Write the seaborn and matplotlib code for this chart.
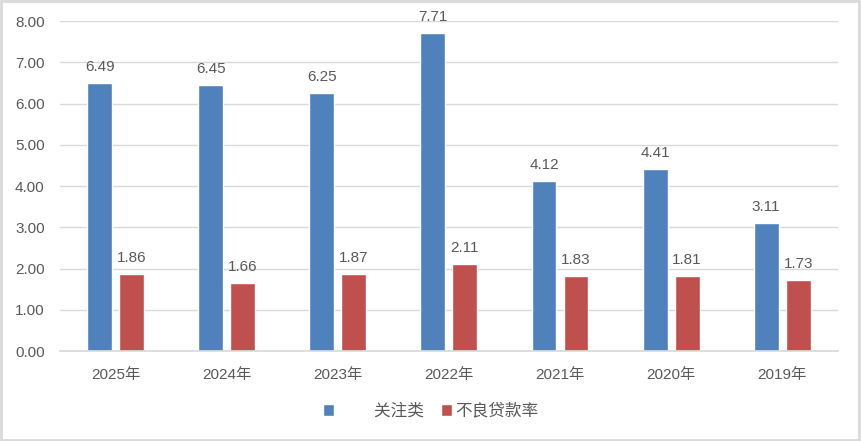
import matplotlib
matplotlib.use("Agg")
import matplotlib.pyplot as plt
import seaborn as sns
import pandas as pd
from matplotlib.patches import Rectangle, Patch

years = ["2025年", "2024年", "2023年", "2022年", "2021年", "2020年", "2019年"]
guanzhu = [6.49, 6.45, 6.25, 7.71, 4.12, 4.41, 3.11]
buliang = [1.86, 1.66, 1.87, 2.11, 1.83, 1.81, 1.73]
series_names = ["关注类", "不良贷款率"]
colors = ["#4F81BD", "#C0504D"]

sns.set_theme(style="white")
plt.rcParams['font.family'] = ['Liberation Sans', 'Noto Sans CJK SC', 'DejaVu Sans']

df = pd.DataFrame({
    "year": years * 2,
    "value": guanzhu + buliang,
    "series": [series_names[0]] * len(years) + [series_names[1]] * len(years),
})

fig = plt.figure(figsize=(8.61, 4.41), dpi=100)
ax = fig.add_axes([0.0697, 0.204, 0.9033, 0.748])
sns.barplot(data=df, x="year", y="value", hue="series", palette=colors,
            order=years, hue_order=series_names, width=0.576, gap=0.22,
            ax=ax, legend=False, saturation=1, errorbar=None)

text_color = "#595959"
for cont in ax.containers:
    ax.bar_label(cont, fmt="%.2f", padding=6.5, fontsize=11, color=text_color)

ax.set_ylim(0, 8)
ax.set_yticks(range(0, 9))
ax.set_yticklabels([f"{v:.2f}" for v in range(0, 9)])
ax.set_xlim(-0.5, len(years) - 0.5)
ax.set_xlabel("")
ax.set_ylabel("")
ax.grid(axis="y", color="#D9D9D9", linewidth=1)
ax.set_axisbelow(True)
for s in ["top", "right", "left"]:
    ax.spines[s].set_visible(False)
ax.spines["bottom"].set_color("#D9D9D9")
ax.tick_params(axis="both", length=0, labelsize=11, labelcolor=text_color)
ax.tick_params(axis="x", pad=12)
ax.tick_params(axis="y", pad=11)

handles = [Patch(facecolor=colors[0]), Patch(facecolor=colors[1])]
labels = ["        " + series_names[0], series_names[1]]
fig.legend(handles, labels, loc="center", bbox_to_anchor=(0.5, 0.068), ncol=2,
           frameon=False, fontsize=12, labelcolor=text_color,
           handlelength=0.65, handleheight=0.65, handletextpad=0.2, columnspacing=1.0)

fig.patches.append(Rectangle((0.001, 0.002), 0.997, 0.995, transform=fig.transFigure,
                             fill=False, edgecolor="#D9D9D9", linewidth=2))

fig.savefig("out.png", dpi=100)
